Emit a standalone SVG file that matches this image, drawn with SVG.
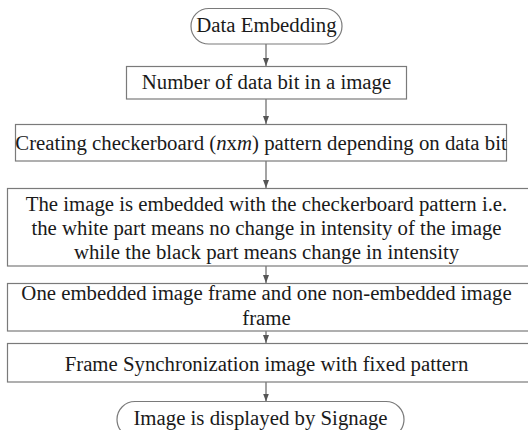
<svg xmlns="http://www.w3.org/2000/svg" width="528" height="430" viewBox="0 0 528 430">
  <defs>
    <marker id="arrow" viewBox="0 0 8 8" refX="8" refY="4" markerWidth="8" markerHeight="8" markerUnits="userSpaceOnUse" orient="auto">
      <path d="M0,1 L8,4 L0,7 Z" fill="#555"/>
    </marker>
  </defs>
  <style>
    .box { fill: #ffffff; stroke: #7a7a7a; stroke-width: 1.2; }
    .lbl { font-family: "Liberation Serif", "Times New Roman", serif; font-size: 20.8px; fill: #1a1a1a; text-anchor: middle; }
    .conn { stroke: #666; stroke-width: 1.2; fill: none; marker-end: url(#arrow); }
  </style>
  <rect width="528" height="430" fill="#ffffff"/>

  <g id="connectors">
    <line class="conn" x1="266" y1="44" x2="266" y2="66"/>
    <line class="conn" x1="266" y1="99" x2="266" y2="124"/>
    <line class="conn" x1="266" y1="161" x2="266" y2="188"/>
    <line class="conn" x1="266" y1="266" x2="266" y2="283"/>
    <line class="conn" x1="266" y1="331" x2="266" y2="343"/>
    <line class="conn" x1="266" y1="382" x2="266" y2="401.5"/>
  </g>

  <g id="start">
    <rect class="box" x="191" y="8.5" width="151" height="35.5" rx="17.75"/>
    <text class="lbl" x="266.5" y="32">Data Embedding</text>
  </g>

  <g id="bit-count">
    <rect class="box" x="126.5" y="66.5" width="280" height="32.5"/>
    <text class="lbl" x="266.5" y="89">Number of data bit in a image</text>
  </g>

  <g id="checkerboard">
    <rect class="box" x="15.5" y="124.5" width="491" height="36.5"/>
    <text class="lbl" x="261" y="150">Creating checkerboard (<tspan font-style="italic">n</tspan>x<tspan font-style="italic">m</tspan>) pattern depending on data bit</text>
  </g>

  <g id="embed">
    <rect class="box" x="7.5" y="188.5" width="522" height="77.5"/>
    <text class="lbl" x="266.5" y="211">The image is embedded with the checkerboard pattern i.e.</text>
    <text class="lbl" x="266.5" y="235">the white part means no change in intensity of the image</text>
    <text class="lbl" x="266.5" y="259">while the black part means change in intensity</text>
  </g>

  <g id="frames">
    <rect class="box" x="7.5" y="283.5" width="522" height="47.5"/>
    <text class="lbl" x="266.5" y="300">One embedded image frame and one non-embedded image</text>
    <text class="lbl" x="266.5" y="325">frame</text>
  </g>

  <g id="sync">
    <rect class="box" x="7.5" y="343.5" width="522" height="38.5"/>
    <text class="lbl" x="266.5" y="371">Frame Synchronization image with fixed pattern</text>
  </g>

  <g id="display">
    <rect class="box" x="117" y="401.5" width="287" height="36" rx="18"/>
    <text class="lbl" x="260.5" y="425">Image is displayed by Signage</text>
  </g>
</svg>
